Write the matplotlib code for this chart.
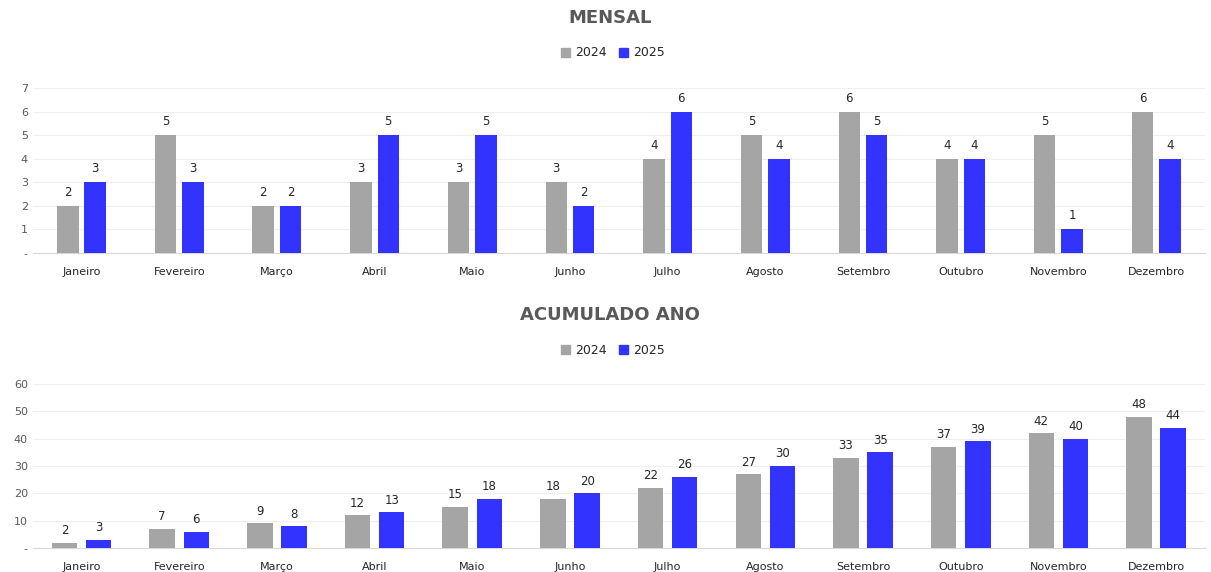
import numpy as np
import matplotlib.pyplot as plt
from matplotlib.patches import Patch

meses = ['Janeiro', 'Fevereiro', 'Março', 'Abril', 'Maio', 'Junho', 'Julho',
         'Agosto', 'Setembro', 'Outubro', 'Novembro', 'Dezembro']
mensal_2024 = [2, 5, 2, 3, 3, 3, 4, 5, 6, 4, 5, 6]
mensal_2025 = [3, 3, 2, 5, 5, 2, 6, 4, 5, 4, 1, 4]
acum_2024 = [2, 7, 9, 12, 15, 18, 22, 27, 33, 37, 42, 48]
acum_2025 = [3, 6, 8, 13, 18, 20, 26, 30, 35, 39, 40, 44]

COR_2024 = '#a5a5a5'
COR_2025 = '#3333ff'
TXT = '#595959'

plt.rcParams['font.family'] = ['DejaVu Sans']

fig = plt.figure(figsize=(12.11, 5.72), dpi=100)


def painel(rect, v24, v25, ymax, step, largura, desloc, titulo, ytit, yleg, dy):
    ax = fig.add_axes(rect)
    x = np.arange(len(meses))
    b1 = ax.bar(x - desloc, v24, largura, color=COR_2024, zorder=3)
    b2 = ax.bar(x + desloc, v25, largura, color=COR_2025, zorder=3)
    for bars, vals in ((b1, v24), (b2, v25)):
        for b, v in zip(bars, vals):
            ax.text(b.get_x() + b.get_width() / 2, v + dy, str(v),
                    ha='center', va='bottom', fontsize=8.5, color='#262626')
    ax.set_xlim(-0.5, len(meses) - 0.5)
    ax.set_ylim(0, ymax)
    ticks = np.arange(0, ymax + step, step)
    ax.set_yticks(ticks)
    ax.set_yticklabels(['-'] + [str(int(t)) for t in ticks[1:]])
    ax.set_xticks(x)
    ax.set_xticklabels(meses)
    ax.tick_params(axis='both', length=0, labelsize=8, colors=TXT)
    ax.tick_params(axis='x', pad=10, colors='#262626')
    ax.grid(axis='y', color='#efefef', linewidth=0.8, zorder=0)
    for s in ('top', 'right', 'left'):
        ax.spines[s].set_visible(False)
    ax.spines['bottom'].set_color('#d9d9d9')
    fig.text(0.5035, ytit, titulo, ha='center', va='center', fontsize=13,
             fontweight='bold', color=TXT)
    fig.legend(handles=[Patch(color=COR_2024, label='2024'),
                        Patch(color=COR_2025, label='2025')],
               loc='center', bbox_to_anchor=(0.506, yleg), ncol=2,
               frameon=False, fontsize=9, handlelength=0.7, handleheight=0.7,
               handletextpad=0.4, columnspacing=1.0, labelcolor='#262626')
    return ax


painel([0.027, 0.558, 0.968, 0.288], mensal_2024, mensal_2025, 7, 1,
       0.22, 0.14, 'MENSAL', 1 - 18 / 572, 1 - 53 / 572, 0.3)
painel([0.027, 0.042, 0.968, 0.287], acum_2024, acum_2025, 60, 10,
       0.26, 0.175, 'ACUMULADO ANO', 1 - 315 / 572, 1 - 350 / 572, 2.0)

fig.savefig('out.png', dpi=100)
